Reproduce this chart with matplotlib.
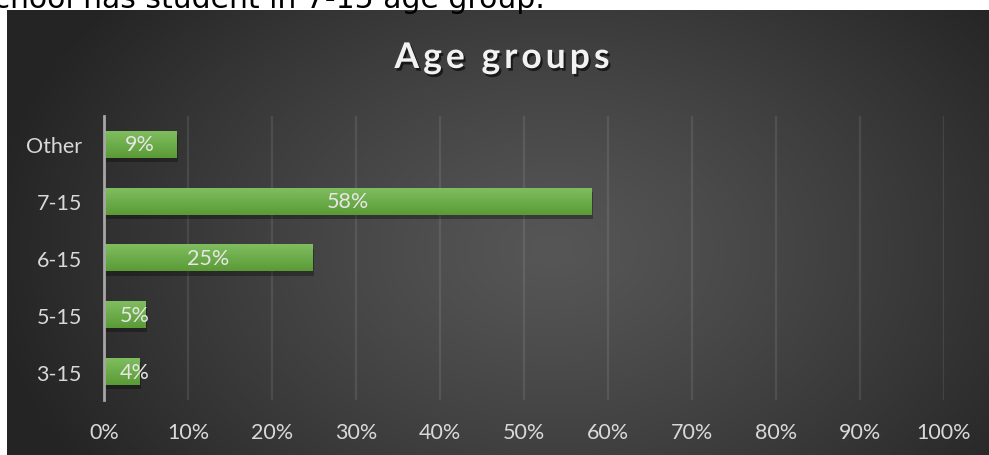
import numpy as np
import matplotlib.pyplot as plt
from matplotlib import patheffects as pe

categories = ["3-15", "5-15", "6-15", "7-15", "Other"]
shares = [4.2, 4.9, 24.8, 58.0, 8.6]
xticks = list(range(0, 101, 10))
xtick_labels = [f"{t}%" for t in xticks]
title = "Age groups"
caption = "school has student in 7-15 age group."

W, H = 989, 456
fig = plt.figure(figsize=(W / 100, H / 100), dpi=100)
fig.patch.set_facecolor("white")

# sentence from the page above the chart, only its lower part shows
fig.text(545 / W, 1 - 8.5 / H, caption, ha="right", va="baseline",
         fontsize=21.5, family="DejaVu Sans", color="black")

# dark panel with a soft radial highlight
bg = fig.add_axes([7 / W, 0, 982 / W, 445 / H])
bg.set_axis_off()
yy, xx = np.mgrid[0:445, 0:982]
r = np.sqrt(((xx - 545) / 570) ** 2 + ((yy - 240) / 400) ** 2)
r = np.clip(r, 0, 1) ** 1.2
inner = np.array([0x56, 0x56, 0x56]) / 255
outer = np.array([0x24, 0x24, 0x24]) / 255
img = inner + (outer - inner) * r[..., None]
bg.imshow(img, aspect="auto", interpolation="bilinear")

font = "Lato"
txt_color = "#d9d9d9"

ax = fig.add_axes([104 / W, 55 / H, 840 / W, 284 / H])
ax.patch.set_alpha(0)

ypos = np.arange(len(categories))
bars = ax.barh(ypos, shares, height=0.47, color="#68a843", zorder=3,
               path_effects=[pe.SimplePatchShadow(offset=(1.5, -3), shadow_rgbFace="black", alpha=0.3),
                             pe.Normal()])

# vertical green gradient on each bar
grad = np.linspace(0, 1, 64)[:, None]
top = np.array([0x80, 0xbd, 0x5f]) / 255
bot = np.array([0x5a, 0x9b, 0x36]) / 255
gimg = top + (bot - top) * grad[..., None]
for b in bars:
    x0, y0 = b.get_x(), b.get_y()
    ax.imshow(gimg, extent=[x0, x0 + b.get_width(), y0, y0 + b.get_height()],
              aspect="auto", origin="upper", zorder=4, interpolation="bilinear")

for y, v in zip(ypos, shares):
    ax.text(max(v / 2, 3.6), y, f"{v:.0f}%", ha="center", va="center",
            color="#e6e6e6", fontsize=15.5, family=font, zorder=5)

ax.set_xlim(0, 100)
ax.set_ylim(-0.5, len(categories) - 0.5)
ax.set_xticks(xticks)
ax.set_xticklabels(xtick_labels)
ax.set_yticks(ypos)
ax.set_yticklabels(categories)
ax.grid(axis="x", color="white", alpha=0.09, lw=1.6, zorder=0)
ax.set_axisbelow(True)
for s in ["top", "right", "bottom"]:
    ax.spines[s].set_visible(False)
ax.spines["left"].set_color("#a6a6a6")
ax.spines["left"].set_linewidth(2)
ax.spines["left"].set_zorder(6)
ax.tick_params(length=0, colors=txt_color, labelsize=15.5, pad=16)
for lab in ax.get_xticklabels() + ax.get_yticklabels():
    lab.set_family(font)

# spaced-out title: place letters one by one
title_kw = dict(fontsize=25.5, weight="bold", family=font, color="#f2f2f2",
                path_effects=[pe.withSimplePatchShadow(offset=(1.5, -2), shadow_rgbFace="black", alpha=0.6)])
renderer = fig.canvas.get_renderer()
probe = fig.text(0, 0, title, **title_kw)
natural = probe.get_window_extent(renderer).width
probe.remove()
prefix = []
for i in range(len(title)):
    p = fig.text(0, 0, title[:i] + "|", **title_kw)
    bar_w = fig.text(0, 0, "|", **title_kw)
    prefix.append(p.get_window_extent(renderer).width - bar_w.get_window_extent(renderer).width)
    p.remove()
    bar_w.remove()
target_w = 215
spacing = (target_w - natural) / (len(title) - 1)
x_start = 502 - target_w / 2
for i, ch in enumerate(title):
    fig.text((x_start + prefix[i] + i * spacing) / W, 1 - 69 / H, ch,
             ha="left", va="baseline", **title_kw)

fig.savefig("out.png", dpi=100, facecolor=fig.get_facecolor())
plt.close(fig)
